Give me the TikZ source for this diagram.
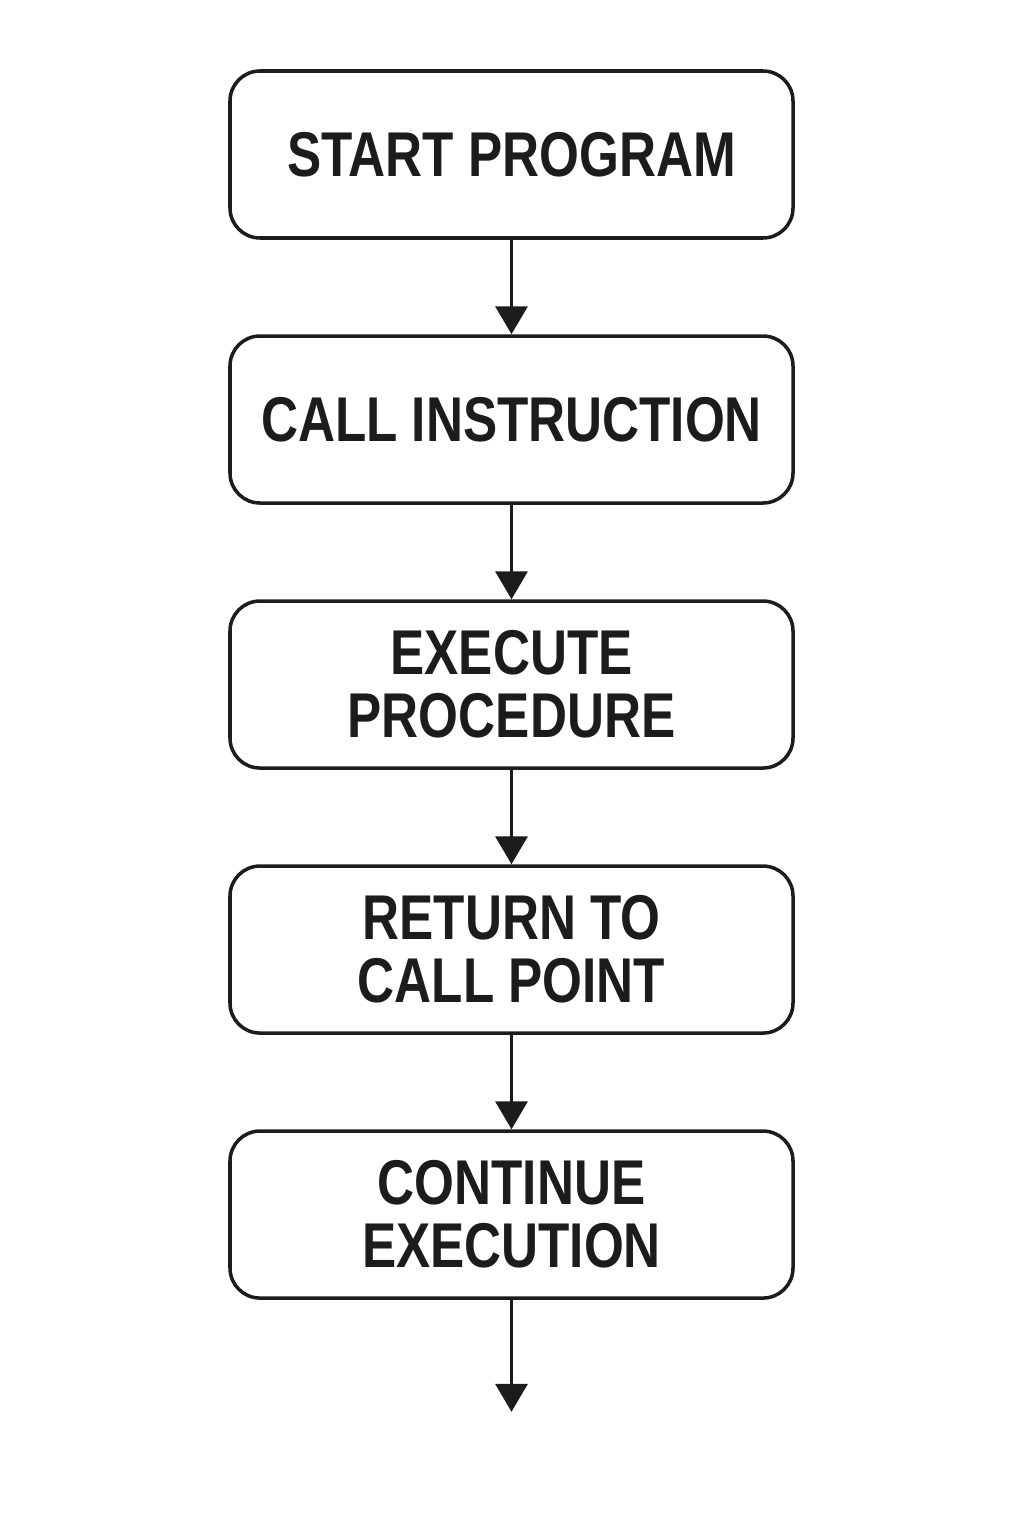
\documentclass[tikz,border=0pt]{standalone}
\usepackage{fontspec}
\setmainfont{Liberation Sans}[FakeStretch=0.81]
\usetikzlibrary{positioning,arrows.meta}
\definecolor{ink}{HTML}{1C1C1C}
\tikzset{
  procbox/.style={draw=ink, text=ink, line width=2pt, rounded corners=0.6cm,
    minimum width=11.26cm, minimum height=3.34cm, align=center, inner sep=0pt,
    font=\fontsize{36}{36}\selectfont\bfseries},
  flowarrow/.style={draw=ink, line width=2pt,
    -{Triangle[length=0.56cm,width=0.64cm]}}
}
\begin{document}
\begin{tikzpicture}[node distance=1.89cm]
    % Page frame
    \useasboundingbox (0,0) rectangle (20.48,-30.72);

    % The steps, top to bottom
    \node[procbox] (start) at (10.23,-3.09) {START PROGRAM};
    \node[procbox, below=of start] (call) {CALL INSTRUCTION};
    \node[procbox, below=of call] (exec) {EXECUTE\\PROCEDURE};
    \node[procbox, below=of exec] (ret) {RETURN TO\\CALL POINT};
    \node[procbox, below=of ret] (cont) {CONTINUE\\EXECUTION};
    \coordinate[below=2.24cm of cont] (out);

    % Connectors
    \draw[flowarrow] (start) -- (call);
    \draw[flowarrow] (call) -- (exec);
    \draw[flowarrow] (exec) -- (ret);
    \draw[flowarrow] (ret) -- (cont);
    \draw[flowarrow] (cont) -- (out);
\end{tikzpicture}
\end{document}
